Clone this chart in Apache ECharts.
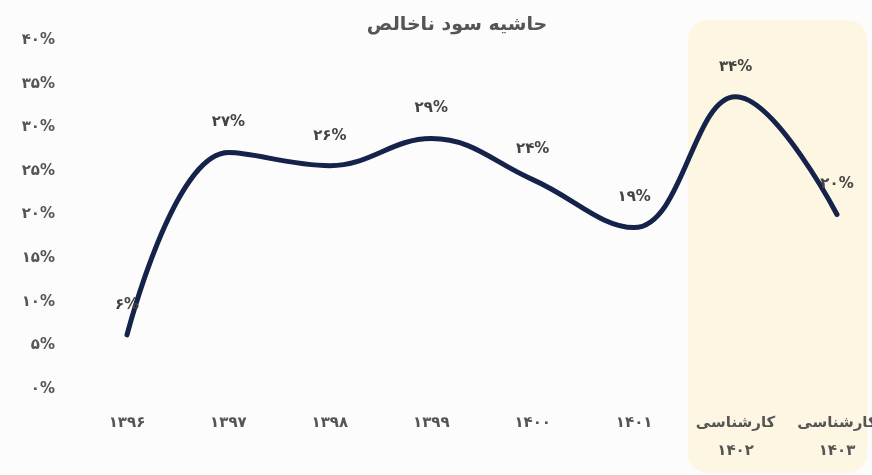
<!DOCTYPE html>
<html><head><meta charset="utf-8">
<script src="https://cdn.jsdelivr.net/npm/echarts@6/dist/echarts.min.js"></script>
<style>html,body{margin:0;padding:0;background:#fcfcfc}#c{width:872px;height:475px}</style>
</head><body><div id="c"></div>
<script>
const categories = ['1396','1397','1398','1399','1400','1401','کارشناسی\n1402','کارشناسی\n1403'];
const margins = [6.2, 27.1, 25.6, 28.7, 24, 18.5, 33.5, 20];
const yTicks = {min: 0, max: 40, interval: 5};
const titleText = 'حاشیه سود ناخالص';

const fa = s => String(s).replace(/[0-9]/g, d => '۰۱۲۳۴۵۶۷۸۹'[d]);
const FONT = '"DejaVu Sans", "Noto Sans", sans-serif';

const chart = echarts.init(document.getElementById('c'));
chart.setOption({
  backgroundColor: '#fcfcfc',
  animation: false,
  title: {text: titleText, left: 452, top: 11, textAlign: 'center',
    textStyle: {fontFamily: FONT, fontSize: 19, fontWeight: 'bold', color: '#555'}},
  grid: {left: 127, right: 35, top: 40, bottom: 86, containLabel: false, outerBoundsMode: 'none'},
  xAxis: {type: 'category', data: categories, boundaryGap: false,
    axisLine: {show: false}, axisTick: {show: false}, splitLine: {show: false},
    axisLabel: {interval: 0, margin: 20, verticalAlign: 'top', lineHeight: 28, color: '#555',
      fontFamily: FONT, fontSize: 15, fontWeight: 'bold', formatter: v => fa(v)}},
  yAxis: {type: 'value', min: yTicks.min, max: yTicks.max, interval: yTicks.interval,
    axisLine: {show: false}, axisTick: {show: false}, splitLine: {show: false},
    axisLabel: {margin: 72, color: '#555', fontFamily: FONT, fontSize: 15, fontWeight: 'bold',
      formatter: v => fa(v) + '%'}},
  series: [{type: 'line', data: margins, smooth: 0.4, symbol: 'circle', symbolSize: 1,
    showSymbol: true, z: 5,
    itemStyle: {color: 'rgba(0,0,0,0)'},
    lineStyle: {color: '#15234a', width: 5, cap: 'round'},
    label: {show: true, position: 'top', distance: 22, color: '#444', fontFamily: FONT,
      fontSize: 15, fontWeight: 'bold', formatter: p => fa(Math.round(p.value)) + '%'}}]
});

const x1401 = chart.convertToPixel({xAxisIndex: 0}, categories[5]);
const x1402 = chart.convertToPixel({xAxisIndex: 0}, categories[6]);
const x1403 = chart.convertToPixel({xAxisIndex: 0}, categories[7]);
const step = x1403 - x1402;
const bx0 = (x1401 + x1402) / 2 + 3;
const bx1 = x1403 + step * 0.3;
chart.setOption({graphic: [{type: 'rect', z: -10, silent: true,
  shape: {x: bx0, y: 20, width: bx1 - bx0, height: 453, r: 20},
  style: {fill: '#fdf6e3'}}]});
</script></body></html>
